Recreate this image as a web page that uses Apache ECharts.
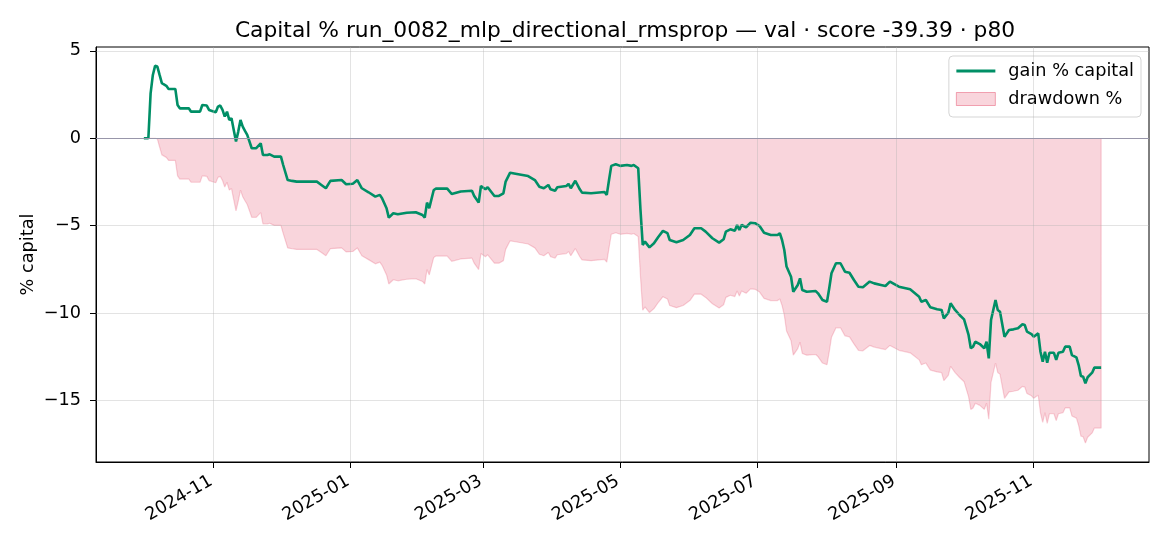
<!DOCTYPE html>
<html><head><meta charset="utf-8">
<script src="https://cdn.jsdelivr.net/npm/echarts@6/dist/echarts.min.js"></script>
<style>html,body{margin:0;padding:0;background:#fff}#c{width:1170px;height:546px}</style>
</head><body><div id="c"></div>
<script>
const titleText = 'Capital % run_0082_mlp_directional_rmsprop — val · score -39.39 · p80';
const yAxisName = '% capital';
const gainName = 'gain % capital';
const ddName = 'drawdown %';
const xTickLabels = ['2024-11','2025-01','2025-03','2025-05','2025-07','2025-09','2025-11'];
const yTickValues = [-15,-10,-5,0,5];

const dates = [
'2024-10-01','2024-10-03','2024-10-04','2024-10-05','2024-10-06','2024-10-07','2024-10-08','2024-10-09','2024-10-11','2024-10-12',
'2024-10-15','2024-10-16','2024-10-17','2024-10-21','2024-10-22','2024-10-26','2024-10-27','2024-10-29','2024-10-30','2024-11-02',
'2024-11-03','2024-11-04','2024-11-05','2024-11-06','2024-11-07','2024-11-08','2024-11-09','2024-11-10','2024-11-11','2024-11-12',
'2024-11-13','2024-11-14','2024-11-15','2024-11-16','2024-11-18','2024-11-20','2024-11-22','2024-11-23','2024-11-25','2024-11-26',
'2024-11-28','2024-12-01','2024-12-02','2024-12-04','2024-12-06','2024-12-08','2024-12-17','2024-12-19','2024-12-21','2024-12-23',
'2024-12-28','2024-12-30','2025-01-02','2025-01-04','2025-01-06','2025-01-09','2025-01-12','2025-01-14','2025-01-15','2025-01-17',
'2025-01-18','2025-01-20','2025-01-22','2025-01-26','2025-01-30','2025-02-02','2025-02-03','2025-02-04','2025-02-05','2025-02-07',
'2025-02-08','2025-02-13','2025-02-15','2025-02-19','2025-02-24','2025-02-25','2025-02-27','2025-02-28','2025-03-02','2025-03-03',
'2025-03-06','2025-03-08','2025-03-10','2025-03-11','2025-03-13','2025-03-16','2025-03-21','2025-03-24','2025-03-26','2025-03-28',
'2025-03-30','2025-03-31','2025-04-02','2025-04-03','2025-04-07','2025-04-08','2025-04-09','2025-04-11','2025-04-13','2025-04-14',
'2025-04-18','2025-04-24','2025-04-25','2025-04-26','2025-04-27','2025-04-29','2025-05-01','2025-05-04','2025-05-06','2025-05-07',
'2025-05-09','2025-05-10','2025-05-11','2025-05-12','2025-05-14','2025-05-16','2025-05-18','2025-05-20','2025-05-22','2025-05-23',
'2025-05-26','2025-05-29','2025-06-01','2025-06-03','2025-06-06','2025-06-08','2025-06-11','2025-06-14','2025-06-16','2025-06-17',
'2025-06-19','2025-06-21','2025-06-22','2025-06-23','2025-06-24','2025-06-26','2025-06-28','2025-06-30','2025-07-02','2025-07-04',
'2025-07-07','2025-07-10','2025-07-11','2025-07-12','2025-07-13','2025-07-14','2025-07-16','2025-07-17','2025-07-19','2025-07-20',
'2025-07-21','2025-07-23','2025-07-27','2025-07-28','2025-07-30','2025-08-01','2025-08-02','2025-08-03','2025-08-05','2025-08-07',
'2025-08-09','2025-08-11','2025-08-13','2025-08-15','2025-08-17','2025-08-20','2025-08-22','2025-08-25','2025-08-27','2025-08-29',
'2025-09-02','2025-09-07','2025-09-11','2025-09-12','2025-09-14','2025-09-16','2025-09-19','2025-09-21','2025-09-22','2025-09-24',
'2025-09-25','2025-09-27','2025-09-29','2025-10-01','2025-10-03','2025-10-04','2025-10-05','2025-10-06','2025-10-08','2025-10-10',
'2025-10-11','2025-10-12','2025-10-13','2025-10-15','2025-10-16','2025-10-17','2025-10-19','2025-10-21','2025-10-23','2025-10-25',
'2025-10-27','2025-10-28','2025-10-29','2025-10-31','2025-11-01','2025-11-03','2025-11-04','2025-11-05','2025-11-06','2025-11-07',
'2025-11-08','2025-11-10','2025-11-11','2025-11-12','2025-11-14','2025-11-15','2025-11-17','2025-11-18','2025-11-20','2025-11-21',
'2025-11-22','2025-11-23','2025-11-24','2025-11-25','2025-11-27','2025-11-28','2025-12-01'
];
const gainPct = [
0,0,2.57,3.62,4.14,4.10,3.62,3.15,3.00,2.82,
2.82,1.90,1.71,1.71,1.52,1.52,1.90,1.87,1.62,1.49,
1.81,1.87,1.62,1.24,1.52,1.05,1.14,0.47,-0.19,0.38,
1.05,0.66,0.42,0.19,-0.57,-0.57,-0.29,-0.96,-0.96,-0.92,
-1.05,-1.05,-1.53,-2.39,-2.44,-2.48,-2.48,-2.67,-2.86,-2.44,
-2.39,-2.63,-2.60,-2.39,-2.86,-3.09,-3.34,-3.24,-3.43,-4.00,
-4.54,-4.29,-4.35,-4.26,-4.23,-4.39,-4.54,-3.68,-4.00,-2.96,
-2.88,-2.88,-3.19,-3.05,-3.00,-3.30,-3.68,-2.73,-2.92,-2.80,
-3.30,-3.30,-3.15,-2.48,-1.97,-2.04,-2.16,-2.39,-2.77,-2.86,
-2.67,-2.92,-3.00,-2.80,-2.73,-2.61,-2.86,-2.43,-2.92,-3.11,
-3.15,-3.07,-3.24,-2.39,-1.58,-1.49,-1.58,-1.53,-1.58,-1.53,
-1.72,-4.10,-6.10,-5.91,-6.24,-6.01,-5.63,-5.30,-5.43,-5.82,
-5.95,-5.82,-5.53,-5.15,-5.15,-5.34,-5.72,-5.97,-5.78,-5.34,
-5.21,-5.29,-4.96,-5.25,-4.96,-5.09,-4.83,-4.86,-5.02,-5.40,
-5.53,-5.53,-5.43,-5.82,-6.39,-7.34,-7.92,-8.78,-8.39,-8.01,
-8.68,-8.78,-8.74,-8.87,-9.25,-9.35,-8.58,-7.72,-7.15,-7.15,
-7.63,-7.69,-8.11,-8.49,-8.52,-8.20,-8.30,-8.39,-8.45,-8.20,
-8.49,-8.64,-9.06,-9.35,-9.25,-9.67,-9.78,-9.82,-10.30,-9.98,
-9.44,-9.82,-10.11,-10.36,-11.25,-12.01,-11.92,-11.64,-11.77,-12.01,
-11.64,-12.59,-10.40,-9.25,-9.82,-9.92,-11.35,-10.97,-10.93,-10.87,
-10.64,-10.68,-11.06,-11.20,-11.35,-11.16,-12.21,-12.78,-12.21,-12.84,
-12.27,-12.27,-12.68,-12.27,-12.21,-11.92,-11.92,-12.40,-12.53,-12.97,
-13.60,-13.64,-14.02,-13.67,-13.41,-13.12,-13.12
];

// drawdown % of equity relative to its running peak
let peakEq = -Infinity;
const drawdownPct = gainPct.map(g => {
  const eq = 1 + g / 100;
  peakEq = Math.max(peakEq, eq);
  return (eq / peakEq - 1) * 100;
});

const parseT = s => { const p = s.split('-').map(Number); return Date.UTC(p[0], p[1] - 1, p[2] || 1); };
const times = dates.map(parseT);
const t0 = times[0], t1 = times[times.length - 1];
const xPad = (t1 - t0) * 0.05;
const xTickTimes = xTickLabels.map(parseT);
const allV = gainPct.concat(drawdownPct, [0]);
const vMax = Math.max(...allV), vMin = Math.min(...allV);
const yPad = (vMax - vMin) * 0.05;

const FONT = 'DejaVu Sans';
const minus = v => String(v).replace('-', '\u2212');
const GREEN = '#008f66';
const PINK = 'rgba(220,20,60,0.18)';

const gridStyle = { color: '#b0b0b0', opacity: 0.4, width: 0.9, type: 'solid' };
const gridLines = xTickTimes.map(t => ({ xAxis: t, lineStyle: gridStyle }))
  .concat(yTickValues.filter(v => v !== 0).map(v => ({ yAxis: v, lineStyle: gridStyle })))
  .concat([{ yAxis: 0, lineStyle: { color: '#9896aa', width: 1.2, type: 'solid', opacity: 1 } }]);

const chart = echarts.init(document.getElementById('c'), null, { renderer: 'canvas' });
chart.setOption({
  animation: false,
  backgroundColor: '#fff',
  textStyle: { fontFamily: FONT },
  title: {
    text: titleText, left: 620, top: 15, textAlign: 'center',
    textStyle: { fontFamily: FONT, fontSize: 21.8, fontWeight: 'normal', color: '#000' }
  },
  grid: { left: 96, right: 21, top: 47, bottom: 84, show: true, borderColor: '#000', borderWidth: 1, backgroundColor: 'transparent' },
  legend: {
    orient: 'vertical', right: 29, top: 56,
    itemWidth: 39, itemHeight: 13, itemGap: 10,
    padding: [6, 7, 9, 7],
    symbolKeepAspect: true,
    borderColor: '#d5d5d5', borderWidth: 1, borderRadius: 4, backgroundColor: '#fff',
    textStyle: { fontFamily: FONT, fontSize: 17.7, color: '#000', padding: [0, 0, 0, 8] },
    data: [
      { name: gainName, icon: 'path://M0,0H40V3H0Z', itemStyle: { color: GREEN, opacity: 1 } },
      { name: ddName, icon: 'rect', itemStyle: { color: PINK, borderColor: 'rgba(220,20,60,0.35)', borderWidth: 1 } }
    ]
  },
  xAxis: {
    type: 'value', min: t0 - xPad, max: t1 + xPad,
    axisLine: { show: true, onZero: false, lineStyle: { color: '#000', width: 1 } },
    axisTick: { show: true, length: 6, lineStyle: { color: '#000' }, customValues: xTickTimes },
    axisLabel: {
      customValues: xTickTimes, rotate: 30, margin: 6, verticalAlign: 'top', align: 'right',
      padding: [0, 8, 0, 0],
      fontFamily: FONT, fontSize: 17.7, color: '#000',
      formatter: v => { const i = xTickTimes.indexOf(v); return i >= 0 ? xTickLabels[i] : ''; }
    },
    splitLine: { show: false }
  },
  yAxis: {
    type: 'value', min: vMin - yPad, max: vMax + yPad,
    name: yAxisName, nameLocation: 'middle', nameGap: 59, nameMoveOverlap: false,
    nameTextStyle: { fontFamily: FONT, fontSize: 17.7, color: '#000' },
    axisLine: { show: true, lineStyle: { color: '#000', width: 1 } },
    axisTick: { show: true, length: 6, lineStyle: { color: '#000' }, customValues: yTickValues },
    axisLabel: { customValues: yTickValues, margin: 15, fontFamily: FONT, fontSize: 17.7, color: '#000', formatter: v => minus(v) },
    splitLine: { show: false }
  },
  series: [
    {
      name: ddName, type: 'line', z: 1, symbol: 'none', silent: true,
      data: times.map((t, i) => [t, drawdownPct[i]]).concat([[t1, 0]]),
      lineStyle: { color: PINK, width: 1.2 },
      itemStyle: { color: PINK },
      areaStyle: { color: PINK, opacity: 1, origin: 0 }
    },
    {
      name: 'grid', type: 'line', z: 2, data: [], silent: true,
      markLine: { silent: true, symbol: 'none', label: { show: false }, data: gridLines, animation: false }
    },
    {
      name: gainName, type: 'line', z: 3, symbol: 'none',
      data: times.map((t, i) => [t, gainPct[i]]),
      lineStyle: { color: GREEN, width: 2.6 },
      itemStyle: { color: GREEN }
    }
  ]
});
</script>
</body></html>
